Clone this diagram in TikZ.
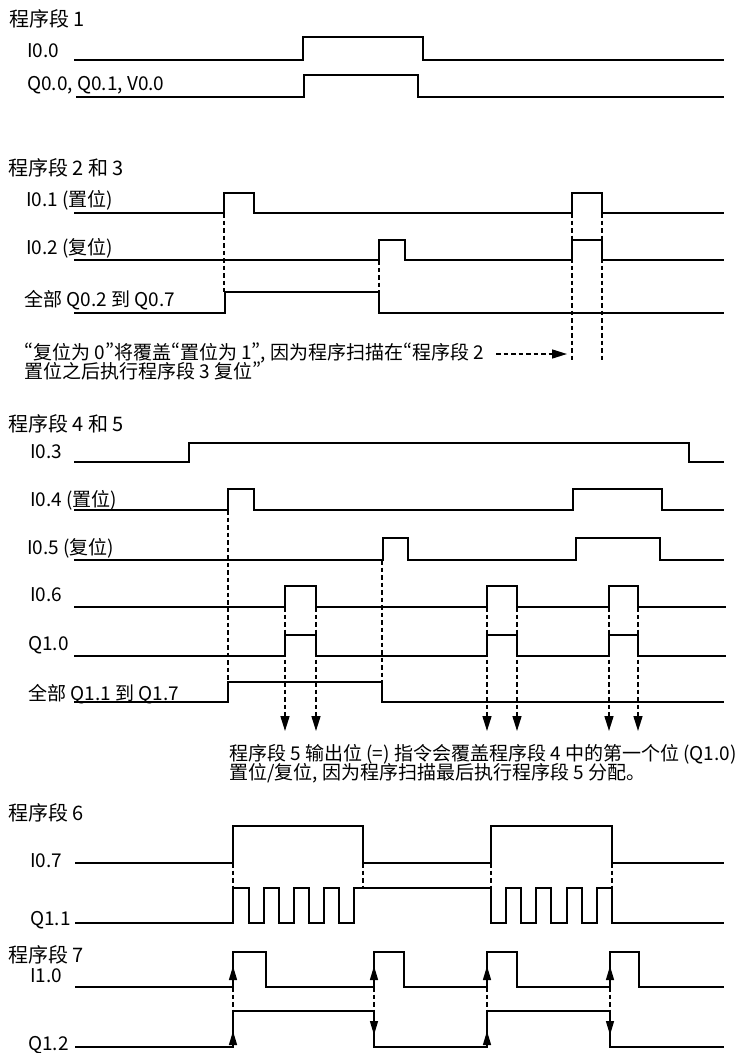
\documentclass[tikz,border=0pt]{standalone}
\usepackage{fontspec}
\setmainfont{Noto Sans CJK SC}
\newfontfamily\qfont{Noto Sans CJK SC}[RawFeature=+pwid]
\newcommand\myoq{{\qfont “}}
\newcommand\mycq{{\qfont ”}}
\usetikzlibrary{arrows.meta}
\begin{document}
\begin{tikzpicture}[x=1pt,y=-1pt,
  wave/.style={line width=1.7pt, line join=miter},
  dsh/.style={line width=1.5pt, dash pattern=on 4.5pt off 3pt},
  dtip/.style={dsh, -{Triangle[width=9pt,length=15pt]}},
  stip/.style={line width=1.3pt, -{Triangle[width=8pt,length=14pt]}},
  lbl/.style={anchor=base west, inner sep=0pt, font=\fontsize{19}{20}\selectfont},
  ttl/.style={anchor=base west, inner sep=0pt, font=\fontsize{20}{21}\selectfont}]
\useasboundingbox (0,0) rectangle (739,1053);

% ---------- Section 1 ----------
\node[ttl] (t1) at (9,26) {程序段 1};
\node[lbl] (l00) at (27,57) {I0.0};
\node[lbl] (lq00) at (27,90) {Q0.0, Q0.1, V0.0};
\draw[wave] (74,60) -| (303,37) -| (423,60) -- (724,60);
\draw[wave] (76,97) -| (304,75) -| (418,97) -- (724,97);

% ---------- Section 2 and 3 ----------
\node[ttl] (t2) at (8,175) {程序段 2 和 3};
\node[lbl] (l01) at (26,206) {I0.1 (置位)};
\node[lbl] (l02) at (26,254) {I0.2 (复位)};
\node[lbl] (lq02) at (24,306) {全部 Q0.2 到 Q0.7};
\draw[wave] (74,213) -| (224,193) -| (254,213) -| (572,193) -| (602,213) -- (724,213);
\draw[wave] (74,260) -| (379,240) -| (405,260) -| (572,240) -| (602,260) -- (724,260);
\draw[wave] (74,313) -| (225,292) -| (379,313) -- (724,313);
\draw[dsh] (224,213) -- (224,292);
\draw[dsh] (379,260) -- (379,292);
\draw[dsh] (572,213) -- (572,363);
\draw[dsh] (602,213) -- (602,363);
\node[lbl] (n2a) at (24,359)
  {\myoq{}复位为 0\mycq{}将覆盖\myoq{}置位为 1\mycq{}, 因为程序扫描在\myoq{}程序段 2};
\node[lbl] (n2b) at (24,378) {置位之后执行程序段 3 复位\mycq{}};
\coordinate (a2s) at (496,354);
\coordinate (a2e) at (567,354);
\draw[dtip] (a2s) -- (a2e);

% ---------- Section 4 and 5 ----------
\node[ttl] (t4) at (8,431) {程序段 4 和 5};
\node[lbl] (l03) at (30,458) {I0.3};
\node[lbl] (l04) at (30,506) {I0.4 (置位)};
\node[lbl] (l05) at (27,554) {I0.5 (复位)};
\node[lbl] (l06) at (30,601) {I0.6};
\node[lbl] (lq10) at (28,650) {Q1.0};
\node[lbl] (lq11) at (28,700) {全部 Q1.1 到 Q1.7};
\draw[wave] (74,462) -| (189,443) -| (689,462) -- (724,462);
\draw[wave] (74,510) -| (228,489) -| (254,510) -| (573,489) -| (662,510) -- (724,510);
\draw[wave] (74,560) -| (383,538) -| (408,560) -| (576,538) -| (660,560) -- (724,560);
\draw[wave] (74,607) -| (285,586) -| (316,607) -| (487,586) -| (517,607) -| (609,586) -| (638,607) -- (726,607);
\draw[wave] (74,656) -| (285,635) -| (316,656) -| (487,635) -| (517,656) -| (609,635) -| (638,656) -- (726,656);
\draw[wave] (74,702) -| (228,682) -| (382,702) -- (724,702);
\draw[dsh] (228,510) -- (228,682);
\draw[dsh] (382,560) -- (382,682);
\foreach \xx in {285,316,487,517,609,638}
  \draw[dtip] (\xx,607) -- (\xx,731);
\node[lbl] (n4a) at (229,760)
  {程序段 5 输出位 (=) 指令会覆盖程序段 4 中的第一个位 (Q1.0)};
\node[lbl] (n4b) at (229,779)
  {置位/复位, 因为程序扫描最后执行程序段 5 分配。};

% ---------- Section 6 ----------
\node[ttl] (t6) at (8,820) {程序段 6};
\node[lbl] (l07) at (30,867) {I0.7};
\node[lbl] (lq11b) at (30,925) {Q1.1};
\draw[wave] (75,863) -| (233,826) -| (363,863) -| (491,826) -| (612,863) -- (724,863);
\draw[wave] (75,923) -| (233,888) -| (249,923) -| (264,888) -| (279,923) -| (294,888)
  -| (309,923) -| (324,888) -| (339,923) -| (354,888) -| (491,923) -| (506,888)
  -| (521,923) -| (536,888) -| (551,923) -| (567,888) -| (582,923) -| (597,888)
  -| (612,923) -- (724,923);
\foreach \xx in {233,363,491,612}
  \draw[dsh] (\xx,863) -- (\xx,888);

% ---------- Section 7 ----------
\node[ttl] (t7) at (8,962) {程序段 7};
\node[lbl] (l10) at (30,982) {I1.0};
\node[lbl] (lq12) at (28,1050) {Q1.2};
\draw[wave] (75,987) -| (233,952) -| (266,987) -| (374,952) -| (404,987) -| (487,952)
  -| (517,987) -| (610,952) -| (639,987) -- (724,987);
\draw[wave] (75,1047) -| (233,1011) -| (374,1047) -| (487,1011) -| (610,1047) -- (724,1047);
\foreach \xx in {233,374,487,610}{
  \draw[dsh] (\xx,987) -- (\xx,1011);
  \draw[stip] (\xx,982) -- (\xx,966);
}
\foreach \xx in {233,487}
  \draw[stip] (\xx,1046) -- (\xx,1031);
\foreach \xx in {374,610}
  \draw[stip] (\xx,1016) -- (\xx,1035);
\end{tikzpicture}
\end{document}
